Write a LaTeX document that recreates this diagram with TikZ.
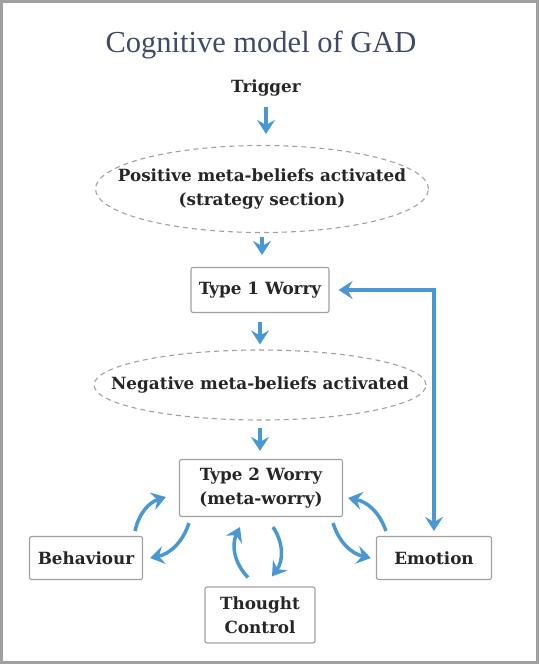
\documentclass[tikz,border=0pt]{standalone}
\usepackage{fontspec}
\setmainfont{DejaVu Serif}
\newfontfamily\titlefont{Liberation Serif}
\usetikzlibrary{arrows.meta,shapes.geometric}
\definecolor{flowblue}{HTML}{4A98D3}
\definecolor{framegray}{HTML}{A0A0A0}
\definecolor{titleblue}{HTML}{3E4A68}
\begin{document}
\begin{tikzpicture}[x=1pt, y=-1pt, >={Stealth[length=14pt,width=18pt,inset=5pt]},
    every node/.style={font=\bfseries\fontsize{16.8}{24}\selectfont, text=black!85, align=center},
    box/.style={draw=framegray, line width=1.1pt, rounded corners=2pt, inner sep=0pt},
    bubble/.style={ellipse, draw=framegray, line width=1.1pt, dash pattern=on 5pt off 4pt, inner sep=0pt},
    flow/.style={draw=flowblue, line width=3.5pt, ->}]
    \useasboundingbox (0,0) rectangle (539,664);
    \draw[framegray, line width=3pt] (1.5,1.5) rectangle (537.5,662.5);

    \node (title) at (261,45) {\titlefont\mdseries\fontsize{30.5}{34}\selectfont\color{titleblue}Cognitive model of GAD};
    \node (trig) at (266,88) {Trigger};
    \node[bubble, minimum width=333pt, minimum height=87pt,
      label={center:{Positive meta-beliefs activated\\(strategy section)}}] (pos) at (262,189) {};
    \node[box, minimum width=138pt, minimum height=45pt] (t1) at (260,290) {Type 1 Worry};
    \node[bubble, minimum width=332pt, minimum height=70pt,
      label={center:{Negative meta-beliefs activated}}] (neg) at (260,385) {};
    \node[box, minimum width=163pt, minimum height=57pt] (t2) at (261,488) {Type 2 Worry\\(meta-worry)};
    \node[box, minimum width=113pt, minimum height=43pt] (beh) at (86,558) {Behaviour};
    \node[box, minimum width=115pt, minimum height=43pt] (emo) at (434,558) {Emotion};
    \node[box, minimum width=110pt, minimum height=56pt] (tc) at (260,615) {Thought\\Control};

    \draw[flow, shorten <=7pt, shorten >=11pt] (trig.south) -- (trig.south |- pos.north);
    \draw[flow, shorten <=4pt, shorten >=12pt] (pos.south) -- (pos.south |- t1.north);
    \draw[flow, shorten <=9pt, shorten >=5pt] (t1.south) -- (t1.south |- neg.north);
    \draw[flow, shorten <=7pt, shorten >=8pt] (neg.south) -- (neg.south |- t2.north);
    \draw[flow, <->, shorten <=5pt, shorten >=9pt] (emo.north) |- (t1.east);

    \draw[flow] ([shift={(-8pt,5pt)}]beh.north east) to[bend left=30] ([shift={(-13pt,-9pt)}]t2.west);
    \draw[flow] ([shift={(10pt,-6pt)}]t2.south west) to[bend left=30] ([shift={(7pt,0pt)}]beh.east);
    \draw[flow] ([shift={(-12pt,9pt)}]tc.north) to[bend left=35] ([shift={(-21pt,-10pt)}]t2.south);
    \draw[flow] ([shift={(12pt,-10pt)}]t2.south) to[bend left=35] ([shift={(12pt,10pt)}]tc.north);
    \draw[flow] ([shift={(-10pt,-6pt)}]t2.south east) to[bend right=30] ([shift={(-5pt,0pt)}]emo.west);
    \draw[flow] ([shift={(10pt,5pt)}]emo.north west) to[bend right=30] ([shift={(5pt,-10pt)}]t2.east);
\end{tikzpicture}
\end{document}
